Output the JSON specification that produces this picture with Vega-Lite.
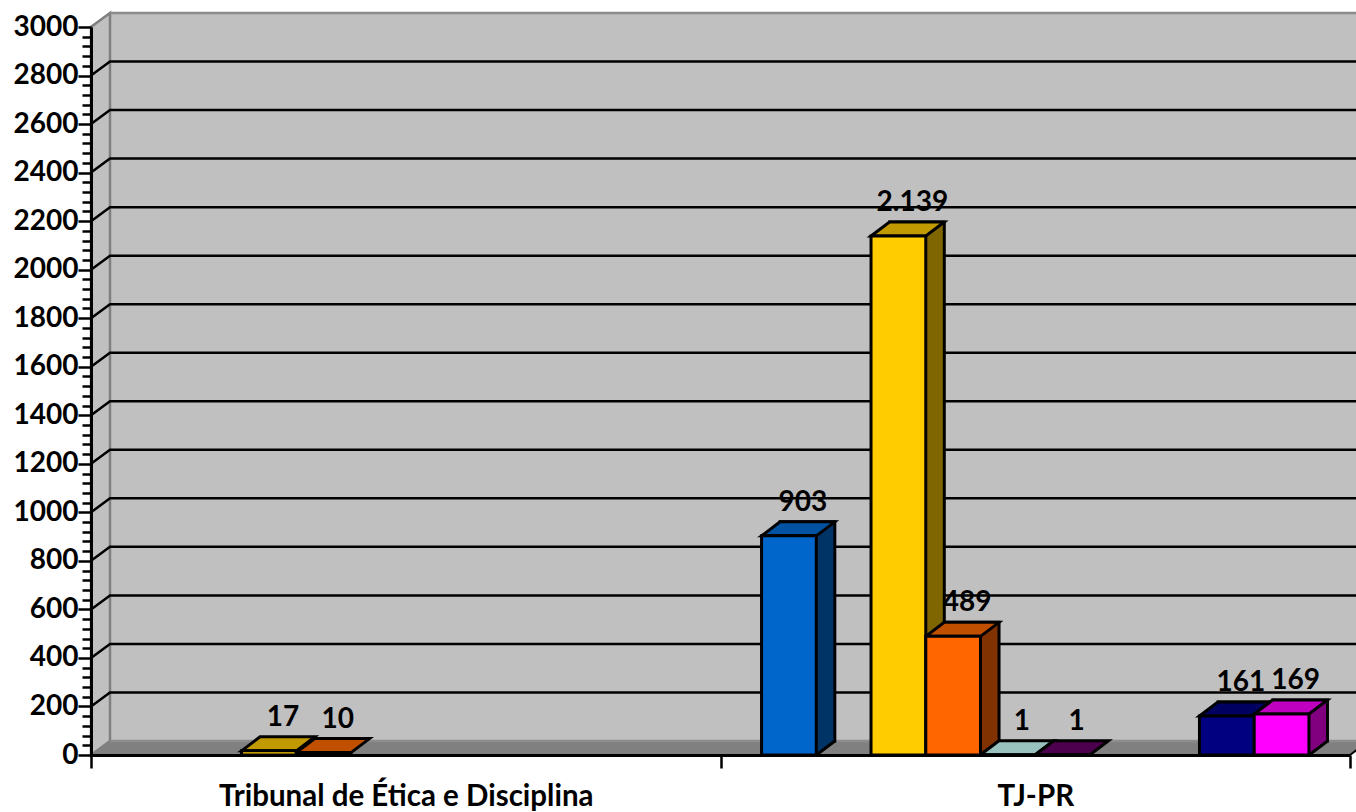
{
"$schema":"https://vega.github.io/schema/vega-lite/v6.json",
"width":1259,"height":728,
"autosize":{"type":"none"},
"padding":{"left":91,"top":27,"right":6,"bottom":57},
"background":"white",
"config":{"view":{"stroke":null},"font":"Lato"},
"datasets":{
"bars":[
{"categoria":"Tribunal de Ética e Disciplina","serie":"s3","valor":17,"rotulo":"17"},
{"categoria":"Tribunal de Ética e Disciplina","serie":"s4","valor":10,"rotulo":"10"},
{"categoria":"TJ-PR","serie":"s1","valor":903,"rotulo":"903"},
{"categoria":"TJ-PR","serie":"s3","valor":2139,"rotulo":"2.139"},
{"categoria":"TJ-PR","serie":"s4","valor":489,"rotulo":"489"},
{"categoria":"TJ-PR","serie":"s5","valor":1,"rotulo":"1"},
{"categoria":"TJ-PR","serie":"s6","valor":1,"rotulo":"1"},
{"categoria":"TJ-PR","serie":"s9","valor":161,"rotulo":"161"},
{"categoria":"TJ-PR","serie":"s10","valor":169,"rotulo":"169"}
],
"base":[{"categoria":"Tribunal de Ética e Disciplina"}],
"niveis":[{"v":200,"categoria":"Tribunal de Ética e Disciplina"},{"v":400,"categoria":"Tribunal de Ética e Disciplina"},{"v":600,"categoria":"Tribunal de Ética e Disciplina"},{"v":800,"categoria":"Tribunal de Ética e Disciplina"},{"v":1000,"categoria":"Tribunal de Ética e Disciplina"},{"v":1200,"categoria":"Tribunal de Ética e Disciplina"},{"v":1400,"categoria":"Tribunal de Ética e Disciplina"},{"v":1600,"categoria":"Tribunal de Ética e Disciplina"},{"v":1800,"categoria":"Tribunal de Ética e Disciplina"},{"v":2000,"categoria":"Tribunal de Ética e Disciplina"},{"v":2200,"categoria":"Tribunal de Ética e Disciplina"},{"v":2400,"categoria":"Tribunal de Ética e Disciplina"},{"v":2600,"categoria":"Tribunal de Ética e Disciplina"},{"v":2800,"categoria":"Tribunal de Ética e Disciplina"}]
},
"encoding":{
"x":{"field":"categoria","type":"nominal","sort":null,
"scale":{"type":"band","domain":["Tribunal de Ética e Disciplina","TJ-PR"],"paddingInner":0,"paddingOuter":0},
"axis":{"title":null,"labelAngle":0,"labelFont":"Lato","labelFontWeight":"bold","labelFontSize":29.5,"labelColor":"black","labelPadding":28,"labelLimit":1000,"tickBand":"extent","tickSize":13,"tickWidth":2.5,"tickColor":"black","domainColor":"black","domainWidth":3,"zindex":1,"labelBaseline":"middle"}}
},
"layer":[
{"data":{"name":"base"},
"mark":{"type":"point","filled":true,"opacity":1,"size":4,"fill":"#C0C0C0","stroke":null,
"shape":"M-295.75,-14 L963,-14 L963,-742 L-295.75,-742 Z"},
"encoding":{"y":{"datum":0,"type":"quantitative",
"scale":{"domain":[0,3000],"nice":false,"zero":false},
"axis":{"title":null,"tickCount":100,"values":[0,40,80,120,160,200,240,280,320,360,400,440,480,520,560,600,640,680,720,760,800,840,880,920,960,1000,1040,1080,1120,1160,1200,1240,1280,1320,1360,1400,1440,1480,1520,1560,1600,1640,1680,1720,1760,1800,1840,1880,1920,1960,2000,2040,2080,2120,2160,2200,2240,2280,2320,2360,2400,2440,2480,2520,2560,2600,2640,2680,2720,2760,2800,2840,2880,2920,2960,3000],
"labelExpr":"datum.value % 200 === 0 ? datum.value : ''","labelOverlap":false,"labelFlush":false,"labelBound":false,
"labelFont":"Lato","labelFontWeight":"bold","labelFontSize":28,"labelColor":"black","labelPadding":0,
"tickSize":{"condition":{"test":"datum.value % 200 === 0","value":13},"value":9},
"tickWidth":2.5,"tickColor":"black","domainColor":"black","domainWidth":3,"grid":false,"zindex":1}}}},
{"data":{"name":"base"},
"mark":{"type":"point","filled":true,"opacity":1,"size":4,"fill":"#C0C0C0","stroke":"#808080","strokeWidth":2.5,
"shape":"M-314.75,0 L-295.75,-14 L-295.75,-742 L-314.75,-728 Z"},
"encoding":{"y":{"datum":0,"type":"quantitative"}}},
{"data":{"name":"base"},
"mark":{"type":"point","filled":true,"opacity":1,"size":4,"fill":"#808080","stroke":null,
"shape":"M-314.75,0 L-295.75,-14 L963,-14 L944.25,0 Z"},
"encoding":{"y":{"datum":0,"type":"quantitative"}}},
{"data":{"name":"base"},
"mark":{"type":"point","filled":false,"opacity":1,"size":4,"stroke":"#8c8c8c","strokeWidth":2.5,
"shape":"M-295.75,-14 L963,-14 M-295.75,-742 L963,-742"},
"encoding":{"y":{"datum":0,"type":"quantitative"}}},
{"data":{"name":"base"},
"mark":{"type":"point","filled":false,"opacity":1,"size":4,"stroke":"black","strokeWidth":2,
"shape":"M944.25,0 L963,-14"},
"encoding":{"y":{"datum":0,"type":"quantitative"}}},
{"data":{"name":"niveis"},
"mark":{"type":"point","filled":false,"opacity":1,"size":4,"stroke":"black","strokeWidth":2.5,
"shape":"M-314.75,0 L-295.75,-14 L963,-14"},
"encoding":{"y":{"field":"v","type":"quantitative"}}},
{"data":{"name":"bars"},"transform":[{"filter":"datum.valor >= 100"}],
"mark":{"type":"bar","stroke":"black","strokeWidth":3,"yOffset":-14,"y2Offset":-14},
"encoding":{"xOffset":{"field":"serie","type":"nominal","sort":null,"scale":{"type":"band","domain":["s1","s2","s3","s4","s5","s6","s7","s8","s9","s10"],"paddingInner":0,"paddingOuter":0.75,"align":0.7256}},
"y":{"field":"valor","type":"quantitative"},"y2":{"datum":0},
"color":{"field":"serie","type":"nominal","legend":null,"scale":{"domain":["s1","s3","s4","s5","s6","s9","s10"],"range":["#003366","#806600","#803300","#668080","#330033","#000040","#800080"]}}}},
{"data":{"name":"bars"},"transform":[{"filter":"datum.valor >= 100"}],
"mark":{"type":"point","filled":true,"opacity":1,"size":4,"stroke":null,"shape":"M27.4,0 L27.4,-17 L44.5,-17 L44.5,-13.5 Z"},
"encoding":{"xOffset":{"field":"serie","type":"nominal","sort":null,"scale":{"type":"band","domain":["s1","s2","s3","s4","s5","s6","s7","s8","s9","s10"],"paddingInner":0,"paddingOuter":0.75}},
"y":{"datum":0,"type":"quantitative"},
"color":{"field":"serie","type":"nominal","legend":null,"scale":{"domain":["s1","s3","s4","s5","s6","s9","s10"],"range":["#003366","#806600","#803300","#668080","#330033","#000040","#800080"]}}}},
{"data":{"name":"bars"},"transform":[{"filter":"datum.valor >= 100"}],
"mark":{"type":"point","filled":false,"opacity":1,"size":4,"stroke":"black","strokeWidth":3,"shape":"M27.4,0 L46,-14"},
"encoding":{"xOffset":{"field":"serie","type":"nominal","sort":null,"scale":{"type":"band","domain":["s1","s2","s3","s4","s5","s6","s7","s8","s9","s10"],"paddingInner":0,"paddingOuter":0.75}},"y":{"datum":0,"type":"quantitative"}}},
{"data":{"name":"bars"},
"mark":{"type":"point","filled":true,"opacity":1,"size":4,"stroke":"black","strokeWidth":3,"shape":"M-27.4,0 L-8.9,-14 L45.9,-14 L27.4,0 Z"},
"encoding":{"xOffset":{"field":"serie","type":"nominal","sort":null,"scale":{"type":"band","domain":["s1","s2","s3","s4","s5","s6","s7","s8","s9","s10"],"paddingInner":0,"paddingOuter":0.75}},
"y":{"field":"valor","type":"quantitative"},
"color":{"field":"serie","type":"nominal","legend":null,"scale":{"domain":["s1","s3","s4","s5","s6","s9","s10"],"range":["#0052A3","#C09A00","#C05000","#99C2BF","#4D004D","#000060","#C000C0"]}}}},
{"data":{"name":"bars"},
"mark":{"type":"bar","stroke":"black","strokeWidth":3},
"encoding":{"xOffset":{"field":"serie","type":"nominal","sort":null,"scale":{"type":"band","domain":["s1","s2","s3","s4","s5","s6","s7","s8","s9","s10"],"paddingInner":0,"paddingOuter":0.75}},
"y":{"field":"valor","type":"quantitative"},"y2":{"datum":0},
"color":{"field":"serie","type":"nominal","legend":null,"scale":{"domain":["s1","s3","s4","s5","s6","s9","s10"],"range":["#0066CC","#FFCC00","#FF6600","#CCFFFF","#660066","#000080","#FF00FF"]}}}},
{"data":{"name":"bars"},
"mark":{"type":"text","font":"Lato","fontWeight":"bold","fontSize":28,"color":"black","dx":14,"dy":-33,"baseline":"middle","align":"center"},
"encoding":{"xOffset":{"field":"serie","type":"nominal","sort":null,"scale":{"type":"band","domain":["s1","s2","s3","s4","s5","s6","s7","s8","s9","s10"],"paddingInner":0,"paddingOuter":0.75}},
"y":{"field":"valor","type":"quantitative"},
"text":{"field":"rotulo","type":"nominal"}}}
],
"resolve":{"scale":{"color":"independent","xOffset":"independent"}}
}
